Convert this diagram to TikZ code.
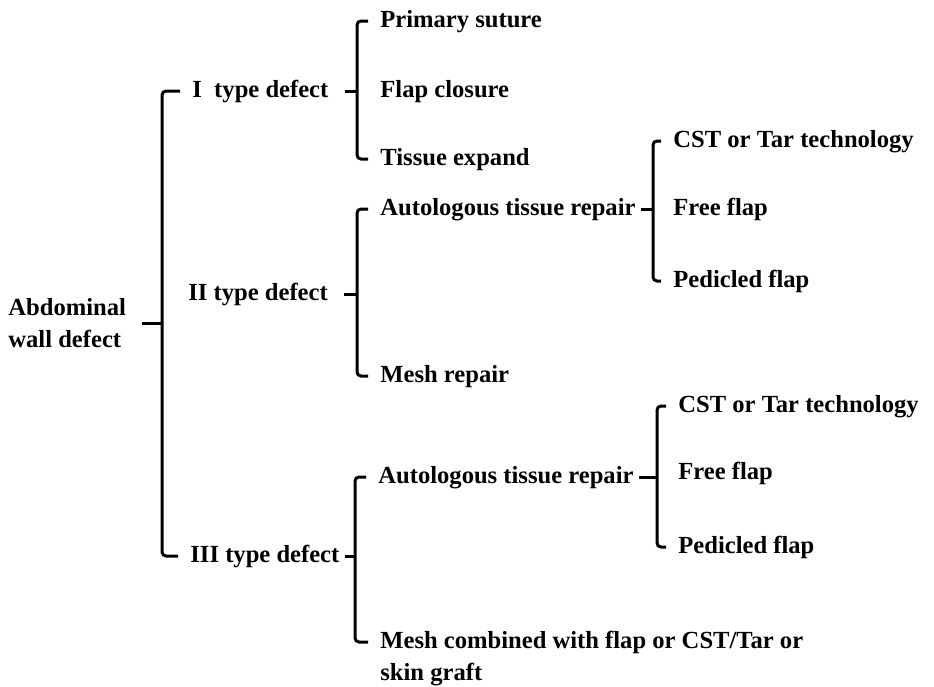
\documentclass[tikz,border=0pt]{standalone}
\usepackage{fontspec}
\setmainfont{Liberation Serif}
\usetikzlibrary{positioning}
\tikzset{
  itembox/.style={anchor=west, inner xsep=1pt, inner ysep=2pt, text height=8pt, text depth=2pt, font=\bfseries\fontsize{12.3}{16}\selectfont},
  multibox/.style={inner xsep=1pt, inner ysep=2pt, align=left, font=\bfseries\fontsize{12.3}{16}\selectfont},
  bracket/.style={line width=1.5pt, rounded corners=2pt, draw=black},
  hookline/.style={bracket, shorten <=5pt, shorten >=5pt},
  parenttick/.style={bracket, shorten <=1.5pt},
  loosetick/.style={bracket, shorten <=7pt}
}
\begin{document}
\begin{tikzpicture}[x=0.5pt, y=-0.5pt]
  \useasboundingbox (0,0) rectangle (934,687);
  % root and defect types
  \node[multibox, anchor=west] (abd) at (6,323) {Abdominal\\wall defect};
  \node[itembox] (t1) at (190,91) {I\ \ type defect};
  \node[itembox] (t2) at (186,294) {II type defect};
  \node[itembox] (t3) at (188,556) {III type defect};
  % type I
  \node[itembox] (ps) at (378,21) {Primary suture};
  \node[itembox] (fc) at (378,91) {Flap closure};
  \node[itembox] (te) at (378,159) {Tissue expand};
  % type II
  \node[itembox] (ar2) at (378,209) {Autologous tissue repair};
  \node[itembox] (mr) at (378,376) {Mesh repair};
  \node[itembox] (cst2) at (671,141) {CST or Tar technology};
  \node[itembox] (ff2) at (671,209) {Free flap};
  \node[itembox] (pf2) at (671,281) {Pedicled flap};
  % type III
  \node[itembox] (ar3) at (376,477) {Autologous tissue repair};
  \node[multibox, anchor=base west] (mc) at (378,680) {Mesh combined with flap or CST/Tar or\\skin graft};
  \node[itembox] (cst3) at (676,406) {CST or Tar technology};
  \node[itembox] (ff3) at (676,473) {Free flap};
  \node[itembox] (pf3) at (676,547) {Pedicled flap};
  % brackets
  \draw[hookline] (t1.west) -- ++(-28,0) coordinate (s0) |- (t3.west);
  \draw[loosetick] (abd.east) -- (abd.east -| s0);
  \draw[hookline] (ps.west) -- ++(-21,0) coordinate (s1) |- (te.west);
  \draw[loosetick] (t1.east) -- (t1.east -| s1);
  \draw[hookline] (ar2.west) -- ++(-21,0) coordinate (s2) |- (mr.west);
  \draw[loosetick] (t2.east) -- (t2.east -| s2);
  \draw[hookline] (cst2.west) -- ++(-18,0) coordinate (s2b) |- (pf2.west);
  \draw[parenttick] (ar2.east) -- (ar2.east -| s2b);
  \draw[hookline] (ar3.west) -- ++(-21,0) coordinate (s3) |- ([yshift=19pt]mc.base west);
  \draw[parenttick] (t3.east) -- (t3.east -| s3);
  \draw[hookline] (cst3.west) -- ++(-19,0) coordinate (s3b) |- (pf3.west);
  \draw[parenttick] (ar3.east) -- (ar3.east -| s3b);
\end{tikzpicture}
\end{document}
